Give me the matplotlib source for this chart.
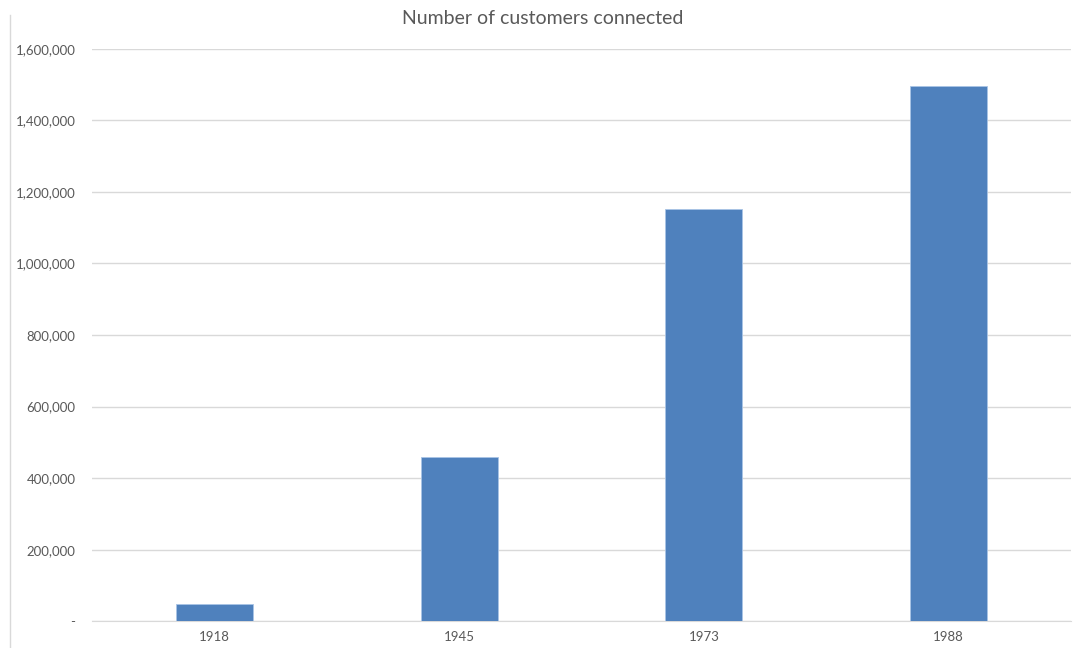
import matplotlib
matplotlib.use("Agg")
import matplotlib.pyplot as plt
from matplotlib.lines import Line2D
from matplotlib.ticker import FuncFormatter, MultipleLocator

plt.rcParams['font.family'] = ['Lato', 'DejaVu Sans']

years = ["1918", "1945", "1973", "1988"]
customers = [48000, 458000, 1151000, 1497000]

fig = plt.figure(figsize=(10.86, 6.48), dpi=100)
ax = fig.add_axes([92/1086, (648-621.3)/648, (1071-92)/1086, (621.3-48.7)/648])

x = range(len(years))
ax.bar(x, customers, width=0.314, color="#4F81BD", edgecolor="#A9C4E6", linewidth=0.6, zorder=3)

ax.set_xlim(-0.5, len(years) - 0.5)
ax.set_ylim(0, 1600000)
ax.yaxis.set_major_locator(MultipleLocator(200000))
ax.yaxis.set_major_formatter(FuncFormatter(lambda v, p: "-" if v == 0 else f"{int(v):,}"))
ax.set_xticks(list(x))
ax.set_xticklabels(years)

ax.grid(axis="y", color="#D9D9D9", linewidth=1, zorder=0)
for s in ["top", "right", "left"]:
    ax.spines[s].set_visible(False)
ax.spines["bottom"].set_color("#D9D9D9")
ax.tick_params(axis="both", length=0, labelsize=9.5, colors="#595959")
ax.tick_params(axis="y", pad=12)
ax.tick_params(axis="x", pad=7)

fig.text(0.5, 1 - 18/648, "Number of customers connected", fontsize=14, color="#595959",
         ha="center", va="center")

fig.add_artist(Line2D([10/1086, 10/1086], [0, 1 - 15/648], color="#D9D9D9", linewidth=1))

fig.savefig("out.png", dpi=100, facecolor="white")
